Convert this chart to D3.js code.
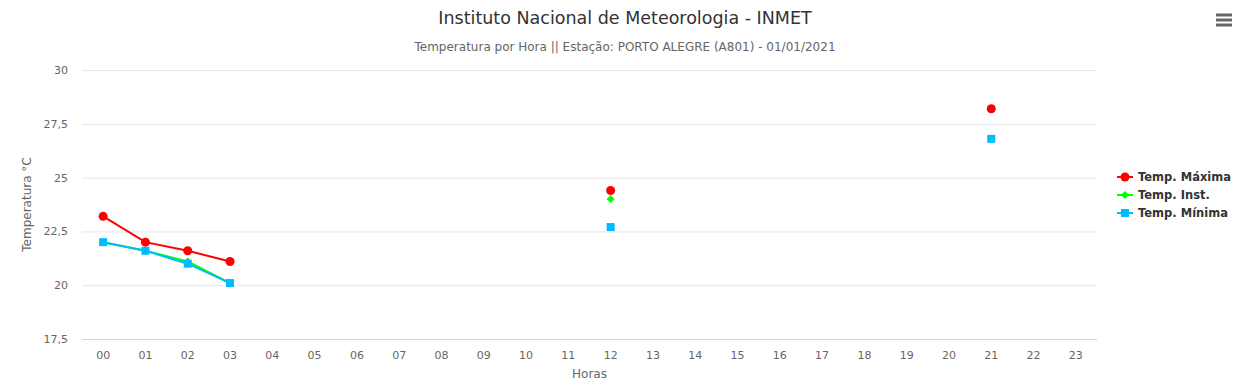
<!DOCTYPE html>
<html>
<head>
<meta charset="utf-8">
<script src="https://cdn.jsdelivr.net/npm/d3@7"></script>
<style>
  body { margin: 0; background: #fff; }
  text { font-family: "DejaVu Sans", Verdana, sans-serif; }
</style>
</head>
<body>
<div id="chart"></div>
<script>
// Hours on the category axis
var hours = ['00','01','02','03','04','05','06','07','08','09','10','11',
             '12','13','14','15','16','17','18','19','20','21','22','23'];
// Temperature series (null = no reading)
var tempMax  = [23.2, 22.0, 21.6, 21.1, null, null, null, null, null, null, null, null,
                24.4, null, null, null, null, null, null, null, null, 28.2, null, null];
var tempInst = [22.0, 21.6, 21.1, 20.1, null, null, null, null, null, null, null, null,
                24.0, null, null, null, null, null, null, null, null, 26.8, null, null];
var tempMin  = [22.0, 21.6, 21.0, 20.1, null, null, null, null, null, null, null, null,
                22.7, null, null, null, null, null, null, null, null, 26.8, null, null];
var yTicks = [17.5, 20, 22.5, 25, 27.5, 30];

var series = [
  { name: 'Temp. Máxima', values: tempMax,  color: '#ff0000', symbol: 'circle' },
  { name: 'Temp. Inst.',  values: tempInst, color: '#00ff00', symbol: 'diamond' },
  { name: 'Temp. Mínima', values: tempMin,  color: '#00bbff', symbol: 'square' }
];

var width = 1242, height = 386;
var margin = { top: 70, right: 145, bottom: 47, left: 82 };

var svg = d3.select('#chart').append('svg')
  .attr('width', width)
  .attr('height', height);

var x = d3.scaleBand().domain(hours).range([margin.left, width - margin.right]);
var y = d3.scaleLinear().domain([17.5, 30]).range([height - margin.bottom, margin.top]);

var fmt = function(v) { return String(v).replace('.', ','); };

// Grid lines
svg.append('g').selectAll('line')
  .data(yTicks.slice(1))
  .enter().append('line')
  .attr('x1', margin.left).attr('x2', width - margin.right)
  .attr('y1', function(d) { return y(d) + 0.5; })
  .attr('y2', function(d) { return y(d) + 0.5; })
  .attr('stroke', '#e6e6e6');

// Axis line
svg.append('line')
  .attr('x1', margin.left).attr('x2', width - margin.right)
  .attr('y1', y(17.5) + 0.5).attr('y2', y(17.5) + 0.5)
  .attr('stroke', '#ccd6eb');

// Y tick labels
svg.append('g').selectAll('text')
  .data(yTicks)
  .enter().append('text')
  .attr('x', margin.left - 14)
  .attr('y', function(d) { return y(d) + 4; })
  .attr('text-anchor', 'end')
  .attr('fill', '#666')
  .style('font-size', '11px')
  .text(fmt);

// X tick labels
svg.append('g').selectAll('text')
  .data(hours)
  .enter().append('text')
  .attr('x', function(d) { return x(d) + x.bandwidth() / 2; })
  .attr('y', y(17.5) + 20)
  .attr('text-anchor', 'middle')
  .attr('fill', '#666')
  .style('font-size', '11px')
  .text(function(d) { return d; });

// Axis titles
svg.append('text')
  .attr('x', (margin.left + width - margin.right) / 2)
  .attr('y', height - 8)
  .attr('text-anchor', 'middle')
  .attr('fill', '#666')
  .style('font-size', '12px')
  .text('Horas');
svg.append('text')
  .attr('transform', 'translate(31,' + ((margin.top + height - margin.bottom) / 2) + ') rotate(-90)')
  .attr('text-anchor', 'middle')
  .attr('fill', '#666')
  .style('font-size', '12px')
  .text('Temperatura °C');

// Titles
svg.append('text')
  .attr('x', width / 2 + 4).attr('y', 24)
  .attr('text-anchor', 'middle')
  .attr('fill', '#333')
  .style('font-size', '17.5px')
  .text('Instituto Nacional de Meteorologia - INMET');
svg.append('text')
  .attr('x', width / 2 + 4).attr('y', 51)
  .attr('text-anchor', 'middle')
  .attr('fill', '#666')
  .style('font-size', '12px')
  .text('Temperatura por Hora || Estação: PORTO ALEGRE (A801) - 01/01/2021');

// Hamburger menu
svg.append('g').selectAll('line')
  .data([15, 20, 25])
  .enter().append('line')
  .attr('x1', 1216).attr('x2', 1232)
  .attr('y1', function(d) { return d; }).attr('y2', function(d) { return d; })
  .attr('stroke', '#666').attr('stroke-width', 3);

// Marker shapes
function symbolPath(type) {
  if (type === 'circle') return d3.symbol().type(d3.symbolCircle).size(64)();
  if (type === 'square') return 'M-4,-4H4V4H-4Z';
  return 'M0,-4L4,0L0,4L-4,0Z';
}

var line = d3.line()
  .defined(function(d) { return d != null; })
  .x(function(d, i) { return x(hours[i]) + x.bandwidth() / 2; })
  .y(function(d) { return y(d); });

var plot = svg.append('g');
series.forEach(function(s) {
  var g = plot.append('g');
  g.append('path')
    .attr('d', line(s.values))
    .attr('fill', 'none')
    .attr('stroke', s.color)
    .attr('stroke-width', 2);
  g.selectAll('path.pt')
    .data(s.values.map(function(v, i) { return { v: v, h: hours[i] }; }).filter(function(d) { return d.v != null; }))
    .enter().append('path')
    .attr('class', 'pt')
    .attr('transform', function(d) { return 'translate(' + (x(d.h) + x.bandwidth() / 2) + ',' + y(d.v) + ')'; })
    .attr('d', symbolPath(s.symbol))
    .attr('fill', s.color);
});

// Legend
var legend = svg.append('g').attr('transform', 'translate(1125,177)');
series.forEach(function(s, i) {
  var row = legend.append('g').attr('transform', 'translate(0,' + (i * 18) + ')');
  row.append('line')
    .attr('x1', -8).attr('x2', 8)
    .attr('stroke', s.color).attr('stroke-width', 2);
  row.append('path')
    .attr('d', symbolPath(s.symbol))
    .attr('fill', s.color);
  row.append('text')
    .attr('x', 13).attr('y', 4)
    .attr('fill', '#333')
    .style('font-size', '11.5px')
    .style('font-weight', 'bold')
    .text(s.name);
});
</script>
</body>
</html>
